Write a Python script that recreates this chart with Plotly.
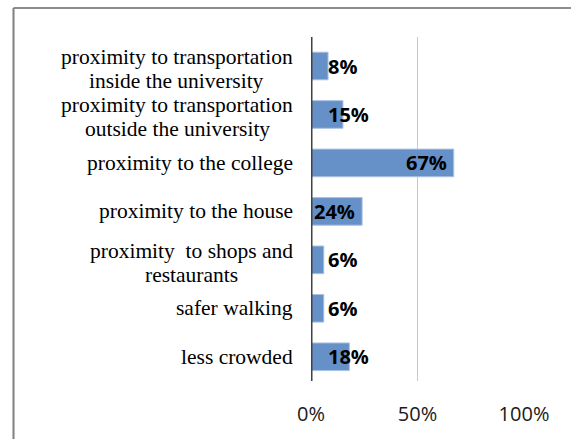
import plotly.graph_objects as go

categories = [
    "proximity to transportation<br>inside the university",
    "proximity to transportation<br>outside the university",
    "proximity to the college",
    "proximity to the house",
    "proximity  to shops and<br>restaurants",
    "safer walking",
    "less crowded",
]
values = [0.08, 0.15, 0.67, 0.24, 0.06, 0.06, 0.18]
value_labels = ["8%", "15%", "67%", "24%", "6%", "6%", "18%"]
tick_vals = [0, 0.5, 1.0]
tick_text = ["0%", "50%", "100%"]

W, H = 571, 439
ML, MR, MT, MB = 311, 47, 37, 58
PW, PH = W - ML - MR, H - MT - MB

CAT_FONT = 21.5
LINE_GAP = 24

# approximate Times/Liberation Serif advance widths (per 1000 em)
_TW = {'a': 444, 'b': 500, 'c': 444, 'd': 500, 'e': 444, 'f': 333, 'g': 500,
       'h': 500, 'i': 278, 'j': 278, 'k': 500, 'l': 278, 'm': 778, 'n': 500,
       'o': 500, 'p': 500, 'q': 500, 'r': 333, 's': 389, 't': 278, 'u': 500,
       'v': 500, 'w': 722, 'x': 500, 'y': 500, 'z': 444, ' ': 250}


def text_w(s, size):
    return sum(_TW.get(ch, 500) for ch in s) / 1000.0 * size


fig = go.Figure(
    go.Bar(
        x=values,
        y=categories,
        orientation="h",
        marker=dict(color="#6690C8", line=dict(color="#A9C1E2", width=1)),
        hoverinfo="skip",
    )
)

annotations = []
for cat, v, lab in zip(categories, values, value_labels):
    lines = cat.split("<br>")
    n = len(lines)
    wmax = max(text_w(l, CAT_FONT) for l in lines)
    for i, line in enumerate(lines):
        if n == 1:
            ys = 0
        else:
            ys = 9 - LINE_GAP * i
        extra = (wmax - text_w(line, CAT_FONT)) / 2.0
        annotations.append(dict(
            x=0, xref="paper", y=cat, yref="y", text=line, showarrow=False,
            xanchor="right", yanchor="middle", xshift=-16 - extra, yshift=ys,
            font=dict(family="Liberation Serif", size=CAT_FONT, color="#000000"),
        ))
    # value label
    if v >= 0.2:
        annotations.append(dict(
            x=v, xref="x", y=cat, yref="y", text=f"<b>{lab}</b>", showarrow=False,
            xanchor="right", yanchor="middle", xshift=-5,
            font=dict(family="Open Sans", size=20, color="#000000"),
        ))
    else:
        annotations.append(dict(
            x=0, xref="x", y=cat, yref="y", text=f"<b>{lab}</b>", showarrow=False,
            xanchor="left", yanchor="middle", xshift=15,
            font=dict(family="Open Sans", size=20, color="#000000"),
        ))

# chart border (left and top edges)
bx = (13.5 - ML) / PW
by = (H - MB - 8) / PH
by0 = (H - MB - H) / PH
shapes = [
    dict(type="line", xref="x", yref="paper", x0=0, x1=0, y0=0, y1=1,
         line=dict(color="#404040", width=3), layer="above"),
    dict(type="line", xref="paper", yref="paper", x0=bx, x1=(W - ML) / PW + 0.1,
         y0=by, y1=by, line=dict(color="#1a1a1a", width=1.2)),
    dict(type="line", xref="paper", yref="paper", x0=bx, x1=bx,
         y0=by0 - 0.1, y1=by, line=dict(color="#808080", width=2)),
]

fig.update_layout(
    width=W, height=H,
    margin=dict(l=ML, r=MR, t=MT, b=MB, pad=0),
    paper_bgcolor="white", plot_bgcolor="white",
    bargap=0.43,
    showlegend=False,
    annotations=annotations,
    shapes=shapes,
    xaxis=dict(
        range=[0, 1], tickvals=tick_vals, ticktext=tick_text,
        showgrid=True, gridcolor="#C8C8C8", gridwidth=1,
        zeroline=False, showline=False,
        ticks="outside", ticklen=15, tickcolor="rgba(0,0,0,0)",
        tickfont=dict(family="Open Sans", size=20, color="#1a1a1a"),
        fixedrange=True,
    ),
    yaxis=dict(
        autorange="reversed", showticklabels=False, showgrid=False,
        zeroline=False, showline=False, fixedrange=True,
    ),
)

fig.write_html("out.html", config={"displayModeBar": False})
